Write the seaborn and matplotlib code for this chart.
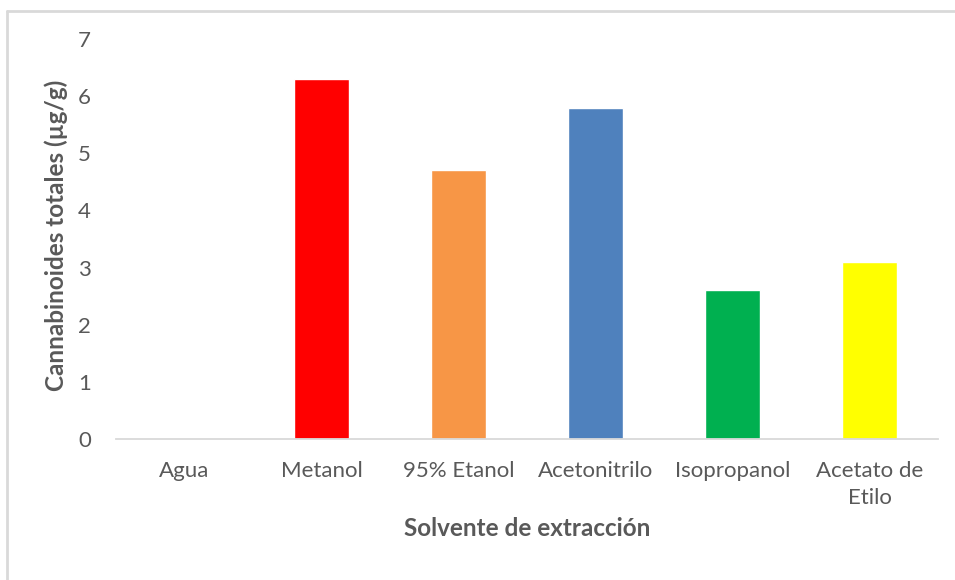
import matplotlib
matplotlib.use("Agg")
import matplotlib.pyplot as plt
import seaborn as sns
import pandas as pd
from matplotlib.lines import Line2D

solventes = ["Agua", "Metanol", "95% Etanol", "Acetonitrilo", "Isopropanol", "Acetato de\nEtilo"]
cannabinoides = [0.0, 6.3, 4.7, 5.8, 2.6, 3.1]
colores = ["#4F81BD", "#FF0000", "#F79646", "#4F81BD", "#00B050", "#FFFF00"]
yticks = [0, 1, 2, 3, 4, 5, 6, 7]

sns.set_theme(style="white")
plt.rcParams["font.family"] = ["Lato", "DejaVu Sans"]
texto = "#595959"

df = pd.DataFrame({"solvente": solventes, "valor": cannabinoides})

fig = plt.figure(figsize=(9.55, 5.8), dpi=100)
ax = fig.add_axes([116 / 955, 1 - 439 / 580, (938 - 116) / 955, 400 / 580])

sns.barplot(data=df, x="solvente", y="valor", hue="solvente",
            palette=dict(zip(solventes, colores)), width=0.4,
            saturation=1, legend=False, ax=ax)

ax.set_ylim(0, 7)
ax.set_yticks(yticks)
ax.set_yticklabels([str(t) for t in yticks])
ax.tick_params(axis="y", length=0, pad=18, labelsize=16, labelcolor=texto)
ax.tick_params(axis="x", length=0, pad=16, labelsize=16, labelcolor=texto)
for lab in ax.get_xticklabels():
    lab.set_linespacing(1.45)
    lab.set_verticalalignment("top")

for s in ["top", "right", "left"]:
    ax.spines[s].set_visible(False)
ax.spines["bottom"].set_color("#D9D9D9")
ax.spines["bottom"].set_linewidth(1.3)

ax.set_xlabel("Solvente de extracción", fontsize=17.5, fontweight="bold", color=texto)
ax.xaxis.set_label_coords(0.5, -0.195)
ax.set_ylabel("Cannabinoides totales (µg/g)", fontsize=17.5, fontweight="bold", color=texto)
ax.yaxis.set_label_coords(-0.058, 0.51)

# light chart-area border
fig.add_artist(Line2D([7 / 955, 7 / 955], [0, 1 - 10.5 / 580], color="#D9D9D9", lw=2, transform=fig.transFigure))
fig.add_artist(Line2D([7 / 955, 1], [1 - 10.5 / 580, 1 - 10.5 / 580], color="#D9D9D9", lw=2, transform=fig.transFigure))

fig.savefig("out.png", dpi=100, facecolor="white")
